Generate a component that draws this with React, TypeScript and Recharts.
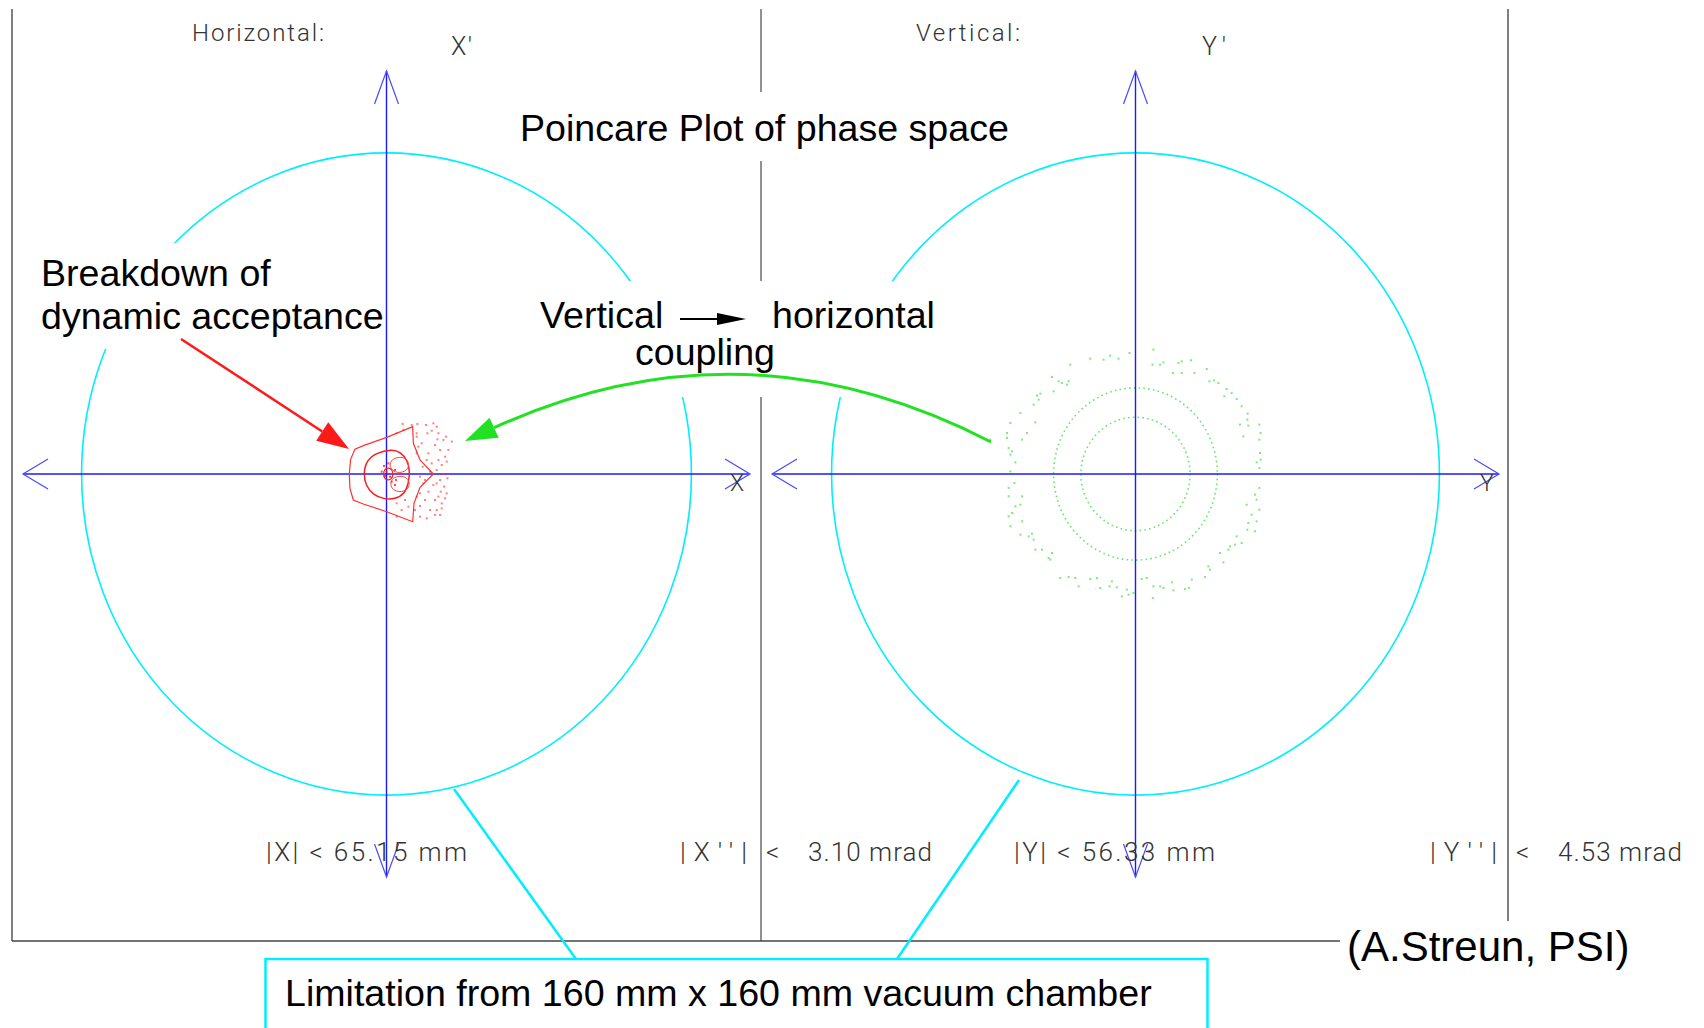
import React from "react"
import { ScatterChart, Scatter, XAxis, YAxis, ReferenceLine, ReferenceArea, ReferenceDot } from "recharts"

type Pt = [number, number]

const W = 1704
const H = 1028

// plot limits: |X| mm, |X'| mrad and |Y| mm, |Y'| mrad
const xLimits: Pt = [65.15, 3.1]
const yLimits: Pt = [56.33, 4.53]

// 160 mm x 160 mm vacuum chamber, as acceptance ellipse semi-axes (mm, mrad)
const xChamber: Pt = [54.65, 2.47]
const yChamber: Pt = [47.1, 3.61]

// horizontal plane: outermost surviving orbit
const xEdge: Pt[] = [
  [4.69, 0.364], [4.81, 0.236], [6.01, 0.108], [8.4, 0], [6.01, -0.103], [4.93, -0.226],
  [4.69, -0.367], [0.03, -0.29], [-4.16, -0.231], [-5.95, -0.2], [-6.55, -0.11], [-6.67, 0],
  [-6.43, 0.113], [-5.65, 0.19], [-4.16, 0.218], [0.03, 0.282],
]
const xTorus: Pt[] = [
  [-4.16, 0], [-3.56, 0.108], [-1.76, 0.164], [0.93, 0.19], [2.42, 0.172], [3.74, 0.108],
  [4.22, 0.018], [3.92, -0.072], [3.32, -0.149], [1.53, -0.195], [-0.57, -0.192],
  [-2.36, -0.162], [-3.68, -0.092],
]
const xIslandUp: Pt[] = [
  [4.1, 0.069], [3.62, 0.121], [2.3, 0.133], [0.93, 0.113], [0.51, 0.069], [0.93, 0.026],
  [2.3, 0.005], [3.62, 0.026],
]
const xIslandDown: Pt[] = [
  [4.22, -0.077], [3.74, -0.026], [2.42, -0.013], [1.11, -0.028], [0.63, -0.077],
  [1.11, -0.123], [2.42, -0.141], [3.74, -0.123],
]
const xCore: Pt[] = [
  [1.23, 0], [0.93, 0.038], [0.33, 0.049], [-0.39, 0.036], [-0.57, 0], [-0.39, -0.036],
  [0.33, -0.049], [0.93, -0.038],
]
const xCoreTurns: Pt[] = [
  [0.03, 0.018], [0.63, -0.021], [-0.27, -0.015], [1.53, 0.031], [-0.87, 0.018],
  [0.93, -0.059], [1.7, -0.046], [-0.45, 0.062], [0.33, 0.082], [1.53, -0.085],
]
// turns of particles leaving the stable region
const xLost: Pt[] = [
  [2.9, 0.385], [4.52, 0.377], [5.53, 0.385], [7.09, 0.377], [8.4, 0.39], [9.0, 0.364],
  [8.1, 0.333], [5.41, 0.313], [7.33, 0.313], [9.3, 0.313], [10.68, 0.287], [11.69, 0.249],
  [10.2, 0.262], [9.12, 0.267], [8.7, 0.223], [9.6, 0.185], [11.09, 0.185], [10.5, 0.133],
  [9.3, 0.108], [10.8, 0.095], [9.9, 0.069], [9.0, 0.031], [9.72, 0], [10.5, 0],
  [10.92, -0.033], [9.6, -0.046], [9.0, -0.072], [10.32, -0.097], [9.72, -0.136],
  [10.8, -0.149], [9.3, -0.174], [10.5, -0.187], [8.7, -0.2], [9.9, -0.226], [9.0, -0.277],
  [9.9, -0.264], [7.81, -0.277], [8.7, -0.315], [9.6, -0.315], [7.21, -0.341], [6.01, -0.328],
  [5.11, -0.277], [6.01, -0.246], [5.41, -0.174], [6.01, -0.149], [6.91, -0.2], [6.61, -0.072],
  [6.01, -0.021], [2.72, -0.277], [1.82, -0.226], [3.32, -0.2], [5.41, 0.287], [6.31, 0.236],
  [5.71, 0.21], [7.51, 0.159], [7.21, 0.108], [8.1, 0.082], [6.49, 0.056], [5.41, 0.159],
  [1.82, -0.328], [3.92, -0.251], [1.82, 0.313], [3.02, 0.338], [6.91, -0.046], [7.81, 0.018],
  [8.4, -0.085], [7.51, -0.136],
]

// vertical plane: two regular tori (semi-axes mm, mrad) and the smeared outer ring
const yRings: Pt[] = [[8.46, 0.638], [12.69, 0.968]]
const yOuter: Pt[] = [
  [-7.01, 1.296], [-4.95, 1.285], [-3.92, 1.33], [-2.63, 1.296], [-0.93, 1.36], [2.78, 1.398],
  [2.63, 1.229], [3.82, 1.229], [4.33, 1.255], [5.78, 1.135], [7.17, 1.135], [6.65, 1.248],
  [7.17, 1.266], [8.61, 1.278], [9.13, 1.135], [11.04, 1.18], [11.45, 1.042], [12.17, 1.053],
  [12.84, 1.023], [14.13, 0.955], [14.9, 0.91], [13.77, 0.873], [15.68, 0.843], [16.45, 0.761],
  [17.38, 0.678], [17.33, 0.611], [16.19, 0.555], [17.48, 0.543], [19.19, 0.555], [19.39, 0.461],
  [19.19, 0.386], [16.71, 0.423], [19.29, 0.236], [19.39, 0.161], [18.77, 0.131], [19.19, 0.067],
  [19.19, -0.157], [18.51, -0.232], [18.77, -0.288], [17.23, -0.345], [19.19, -0.401],
  [18.0, -0.457], [18.77, -0.532], [17.48, -0.551], [18.51, -0.644], [17.33, -0.626],
  [15.68, -0.701], [16.45, -0.776], [15.42, -0.794], [14.65, -0.813], [14.39, -0.851],
  [13.1, -0.888], [13.62, -0.993], [11.29, -1.038], [11.55, -1.075], [10.78, -1.158],
  [8.72, -1.188], [8.3, -1.281], [7.68, -1.293], [5.62, -1.218], [5.88, -1.308], [4.33, -1.281],
  [3.82, -1.263], [2.78, -1.263], [2.68, -1.394], [1.75, -1.169], [0.98, -1.18], [-0.31, -1.338],
  [-1.08, -1.356], [-1.34, -1.3], [-2.11, -1.375], [-2.89, -1.274], [-3.66, -1.206],
  [-4.02, -1.263], [-5.47, -1.281], [-5.98, -1.169], [-7.01, -1.18], [-8.82, -1.263],
  [-9.33, -1.169], [-10.37, -1.158], [-11.66, -1.169], [-13.2, -0.963], [-12.94, -0.888],
  [-13.46, -0.944], [-14.49, -0.851], [-15.52, -0.851], [-15.78, -0.738], [-16.55, -0.701],
  [-16.04, -0.671], [-17.84, -0.682], [-17.59, -0.532], [-19.39, -0.588], [-19.13, -0.438],
  [-19.65, -0.476], [-17.84, -0.345], [-18.62, -0.363], [-19.65, -0.251], [-17.59, -0.251],
  [-19.65, -0.157], [-18.77, -0.101], [-19.39, 0.03], [-18.62, 0.131], [-19.39, 0.217],
  [-19.13, 0.255], [-19.65, 0.292], [-17.59, 0.386], [-16.81, 0.461], [-19.91, 0.461],
  [-19.39, 0.573], [-19.91, 0.405], [-15.52, 0.581], [-17.84, 0.686], [-15.78, 0.779],
  [-15.01, 0.836], [-14.75, 0.903], [-15.27, 0.881], [-12.69, 0.929], [-11.91, 1.042],
  [-11.4, 1.023], [-10.62, 1.004], [-12.94, 1.09], [-10.37, 1.042], [-10.11, 1.229],
  [-22.49, 0.386],
]

const BLUE = "#1a1aff"
const CYAN = "#00eeff"
const RED = "#ff1a1a"
const GREEN = "#22e022"
const SANS = "'Liberation Sans', Arial, sans-serif"
const THIN = "Roboto, 'DejaVu Sans', sans-serif"

const toXY = (pts: Pt[]) => pts.map(([x, y]) => ({ x, y }))

const ellipse = (stroke: string, width: number, dash?: string, opacity = 1) => (p: any) => (
  <ellipse
    cx={p.x + p.width / 2}
    cy={p.y + p.height / 2}
    rx={Math.abs(p.width) / 2}
    ry={Math.abs(p.height) / 2}
    fill="none"
    stroke={stroke}
    strokeWidth={width}
    strokeDasharray={dash}
    strokeOpacity={opacity}
  />
)

const noDot = () => <g />
const square = (color: string, s: number, opacity: number) => (p: any) => (
  <rect x={p.cx - s / 2} y={p.cy - s / 2} width={s} height={s} fill={color} fillOpacity={opacity} />
)

// open arrow heads at the ends of the phase-space axes
const chevron = (dir: "left" | "right" | "up" | "down") => (p: any) => {
  const { cx, cy } = p
  let d = ""
  if (dir === "right") d = `M${cx - 25},${cy - 15}L${cx},${cy}L${cx - 25},${cy + 15}`
  if (dir === "left") d = `M${cx + 25},${cy - 15}L${cx},${cy}L${cx + 25},${cy + 15}`
  if (dir === "up") d = `M${cx - 12},${cy + 33}L${cx},${cy}L${cx + 12},${cy + 33}`
  if (dir === "down") d = `M${cx - 12},${cy - 33}L${cx},${cy}L${cx + 12},${cy - 33}`
  return <path d={d} fill="none" stroke="#4a4aff" strokeWidth={1.2} />
}

function PhasePanel({ left, width, ml, mr, lim, chamber, children }: any) {
  return (
    <div style={{ position: "absolute", left, top: 9 }}>
      <ScatterChart width={width} height={932} margin={{ top: 62, right: mr, bottom: 64, left: ml }}>
        <XAxis type="number" dataKey="x" domain={[-lim[0], lim[0]]} hide allowDataOverflow />
        <YAxis type="number" dataKey="y" domain={[-lim[1], lim[1]]} hide allowDataOverflow />
        <ReferenceArea
          x1={-chamber[0]}
          x2={chamber[0]}
          y1={-chamber[1]}
          y2={chamber[1]}
          shape={ellipse(CYAN, 1.6)}
        />
        {children}
        <ReferenceLine y={0} stroke={BLUE} strokeWidth={1.6} />
        <ReferenceLine x={0} stroke={BLUE} strokeWidth={1.4} />
        <ReferenceDot x={lim[0]} y={0} shape={chevron("right")} />
        <ReferenceDot x={-lim[0]} y={0} shape={chevron("left")} />
        <ReferenceDot x={0} y={lim[1]} shape={chevron("up")} />
        <ReferenceDot x={0} y={-lim[1]} shape={chevron("down")} />
      </ScatterChart>
    </div>
  )
}

function Thin({ x, y, w, size = 24, children }: any) {
  return (
    <text x={x} y={y} textLength={w} lengthAdjust="spacing" fontFamily={THIN}
      fontWeight={300} fontSize={size} fill="#333">
      {children}
    </text>
  )
}

function Label({ x, y, size = 37.6, children }: any) {
  return (
    <text x={x} y={y} fontFamily={SANS} fontSize={size} fill="#000">
      {children}
    </text>
  )
}

// filled arrow head pointing from `from` to `tip`
function head(tip: Pt, from: Pt, len: number, half: number) {
  const dx = tip[0] - from[0]
  const dy = tip[1] - from[1]
  const l = Math.hypot(dx, dy)
  const ux = dx / l
  const uy = dy / l
  const bx = tip[0] - ux * len
  const by = tip[1] - uy * len
  return {
    base: [bx, by] as Pt,
    d: `M${tip[0]},${tip[1]}L${bx - uy * half},${by + ux * half}L${bx + uy * half},${by - ux * half}Z`,
  }
}

function Annotations() {
  const red = head([349, 449], [181, 339], 32, 11)
  const ctrl: Pt = [743, 314]
  const green = head([465, 441], ctrl, 32, 11)
  return (
    <svg width={W} height={H} style={{ position: "absolute", left: 0, top: 0 }}>
      {/* frame */}
      <line x1={12} y1={9} x2={12} y2={941} stroke="#555" strokeWidth={1.5} />
      <line x1={761} y1={9} x2={761} y2={941} stroke="#222" strokeWidth={1} />
      <line x1={1508} y1={9} x2={1508} y2={941} stroke="#555" strokeWidth={1.5} />
      <line x1={12} y1={941} x2={1508} y2={941} stroke="#444" strokeWidth={1.5} />

      {/* white backing behind the annotation texts */}
      <rect x={512} y={92} width={504} height={69} fill="#fff" />
      <rect x={30} y={243} width={352} height={106} fill="#fff" />
      <rect x={528} y={281} width={414} height={116} fill="#fff" />
      <rect x={1340} y={921} width={300} height={51} fill="#fff" />

      <Thin x={192} y={41} w={132}>Horizontal:</Thin>
      <Thin x={451} y={55} w={21} size={25}>X'</Thin>
      <Thin x={916} y={41} w={104}>Vertical:</Thin>
      <Thin x={1202} y={55} w={24} size={25}>Y'</Thin>
      <Thin x={730} y={491} w={15} size={23}>X</Thin>
      <Thin x={1480} y={491} w={14} size={23}>Y</Thin>

      <Thin x={266} y={861} w={201} size={26}>|X| &lt; 65.15 mm</Thin>
      <Thin x={680} y={861} w={67} size={26}>|X''|</Thin>
      <Thin x={766} y={861} w={13} size={26}>&lt;</Thin>
      <Thin x={808} y={861} w={124} size={26}>3.10 mrad</Thin>
      <Thin x={1014} y={861} w={201} size={26}>|Y| &lt; 56.33 mm</Thin>
      <Thin x={1430} y={861} w={67} size={26}>|Y''|</Thin>
      <Thin x={1516} y={861} w={13} size={26}>&lt;</Thin>
      <Thin x={1558} y={861} w={124} size={26}>4.53 mrad</Thin>

      <Label x={520} y={141}>Poincare Plot of phase space</Label>
      <Label x={41} y={286}>Breakdown of</Label>
      <Label x={41} y={329}>dynamic acceptance</Label>
      <Label x={540} y={328}>Vertical</Label>
      <Label x={772} y={328}>horizontal</Label>
      <Label x={635} y={365}>coupling</Label>

      {/* coupling arrow in the text */}
      <line x1={680} y1={319} x2={719} y2={319} stroke="#000" strokeWidth={2} />
      <path d="M717,313L746,319L717,325Z" fill="#000" />

      {/* red pointer to the breakdown region */}
      <line x1={181} y1={339} x2={red.base[0]} y2={red.base[1]} stroke={RED} strokeWidth={2.5} />
      <path d={red.d} fill={RED} />

      {/* green coupling arrow from vertical to horizontal plane */}
      <path
        d={`M991,442Q${ctrl[0]},${ctrl[1]} ${green.base[0]},${green.base[1]}`}
        fill="none"
        stroke={GREEN}
        strokeWidth={3}
      />
      <path d={green.d} fill={GREEN} />

      {/* chamber callout */}
      <line x1={454} y1={789} x2={576} y2={959} stroke={CYAN} strokeWidth={2.5} />
      <line x1={1019} y1={780} x2={897} y2={959} stroke={CYAN} strokeWidth={2.5} />
      <rect x={265.5} y={959} width={942} height={90} fill="#fff" stroke={CYAN} strokeWidth={2.5} />
      <Label x={285} y={1006}>Limitation from 160 mm x 160 mm vacuum chamber</Label>

      <Label x={1347} y={961} size={42}>(A.Streun, PSI)</Label>
    </svg>
  )
}

export default function App() {
  return (
    <div style={{ position: "absolute", left: 0, top: 0, width: W, height: H, background: "#fff" }}>
      <PhasePanel left={12} width={749} ml={11} mr={11} lim={xLimits} chamber={xChamber}>
        <Scatter data={toXY(xEdge)} line={{ stroke: "#ff3030", strokeWidth: 1.2 }}
          lineJointType="linearClosed" shape={noDot} isAnimationActive={false} />
        <Scatter data={toXY(xTorus)} line={{ stroke: RED, strokeWidth: 1.5 }}
          lineJointType="basisClosed" shape={noDot} isAnimationActive={false} />
        <Scatter data={toXY(xIslandUp)} line={{ stroke: "#ff4040", strokeWidth: 1 }}
          lineJointType="basisClosed" shape={noDot} isAnimationActive={false} />
        <Scatter data={toXY(xIslandDown)} line={{ stroke: "#ff4040", strokeWidth: 1 }}
          lineJointType="basisClosed" shape={noDot} isAnimationActive={false} />
        <Scatter data={toXY(xCore)} line={{ stroke: RED, strokeWidth: 1.2 }}
          lineJointType="basisClosed" shape={noDot} isAnimationActive={false} />
        <Scatter data={toXY(xCoreTurns)} shape={square(RED, 2, 0.8)} isAnimationActive={false} />
        <Scatter data={toXY(xLost)} shape={square(RED, 2, 0.55)} isAnimationActive={false} />
      </PhasePanel>
      <PhasePanel left={761} width={747} ml={11} mr={9} lim={yLimits} chamber={yChamber}>
        {yRings.map(([a, b], i) => (
          <ReferenceArea key={i} x1={-a} x2={a} y1={-b} y2={b}
            shape={ellipse(GREEN, 1.6, "1.6 3.2", 0.7)} />
        ))}
        <Scatter data={toXY(yOuter)} shape={square(GREEN, 2, 0.6)} isAnimationActive={false} />
      </PhasePanel>
      <Annotations />
    </div>
  )
}
